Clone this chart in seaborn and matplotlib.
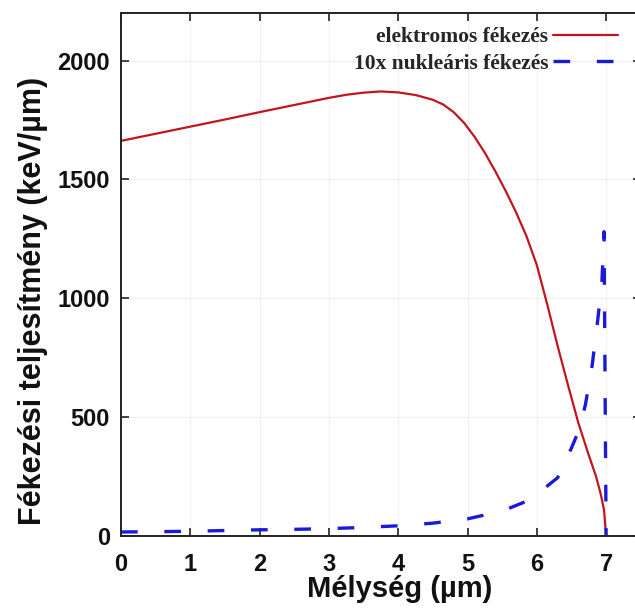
import numpy as np
import pandas as pd
import matplotlib
matplotlib.use("Agg")
import matplotlib.pyplot as plt
import seaborn as sns

# Electronic stopping power along the track (keV/µm vs depth in µm)
elec_depth = [0.0, 0.5, 1.0, 1.5, 2.0, 2.5, 3.0, 3.25, 3.5, 3.75, 4.0, 4.25, 4.5,
              4.65, 4.8, 4.95, 5.1, 5.25, 5.4, 5.55, 5.7, 5.85, 6.0, 6.15, 6.3,
              6.45, 6.6, 6.75, 6.85, 6.92, 6.97, 7.0]
elec_power = [1662, 1692, 1722, 1752, 1783, 1813, 1843, 1856, 1865, 1870, 1866, 1855, 1835,
              1815, 1783, 1738, 1680, 1612, 1535, 1452, 1362, 1262, 1140, 975, 800,
              635, 475, 340, 255, 180, 110, 0]

# Nuclear stopping power, multiplied by 10
nucl_depth = [0.0, 0.5, 1.0, 1.5, 2.0, 2.5, 3.0, 3.5, 4.0, 4.5, 5.0, 5.5, 5.8,
              6.0, 6.3, 6.5, 6.6, 6.7, 6.8, 6.88, 6.94, 6.97, 7.0]
nucl_power = [17, 18, 20, 23, 26, 28, 31, 36, 43, 54, 72, 105, 140,
              175, 245, 370, 440, 550, 720, 910, 1070, 1280, 0]

series_names = ["elektromos fékezés", "10x nukleáris fékezés"]
x_ticks = [0, 1, 2, 3, 4, 5, 6, 7]
y_ticks = [0, 500, 1000, 1500, 2000]

df = pd.concat([
    pd.DataFrame({"x": elec_depth, "y": elec_power, "series": series_names[0]}),
    pd.DataFrame({"x": nucl_depth, "y": nucl_power, "series": series_names[1]}),
], ignore_index=True)

sns.set_theme(style="white")
plt.rcParams["font.family"] = ["Liberation Sans", "DejaVu Sans"]

W, H = 635, 612
fig = plt.figure(figsize=(W / 100, H / 100), dpi=100)
# axes spans 0..7.5 in x; the right edge runs slightly past the canvas
x0, y0, y_top = 121, 536, 13
px_per_unit = 69.3
ax = fig.add_axes([x0 / W, (H - y0) / H, 7.5 * px_per_unit / W, (y0 - y_top) / H])

palette = {series_names[0]: "#c0161e", series_names[1]: "#1a1ad8"}
sns.lineplot(data=df, x="x", y="y", hue="series", style="series",
             palette=palette, dashes={series_names[0]: "", series_names[1]: (5, 8)},
             estimator=None, sort=False, ax=ax, legend=False)
for line, lw in zip(ax.lines, [1.6, 2.4]):
    line.set_linewidth(lw)
    line.set_solid_joinstyle("round")

ax.set_xlim(0, 7.5)
ax.set_ylim(0, 2200)
ax.set_xticks(x_ticks)
ax.set_yticks(y_ticks)
ax.grid(True, color="#f0f0f0", linewidth=0.8)
for side in ["left", "bottom", "top", "right"]:
    ax.spines[side].set_visible(True)
    ax.spines[side].set_color("#222222")
    ax.spines[side].set_linewidth(1.4)
ax.tick_params(direction="in", length=6, width=1.2, color="#222222",
               top=True, right=True, bottom=True, left=True, labelsize=17)
ax.tick_params(axis="x", pad=12)
ax.tick_params(axis="y", pad=8)
for lab in ax.get_xticklabels() + ax.get_yticklabels():
    lab.set_fontweight("bold")
    lab.set_color("#111111")

ax.set_xlabel("Mélység (µm)", fontsize=21, fontweight="bold", color="#111111")
ax.xaxis.set_label_coords(0.537, -0.075)
ax.set_ylabel("Fékezési teljesítmény (keV/µm)", fontsize=22, fontweight="bold",
              color="#111111")
ax.yaxis.set_label_coords(-0.14, 0.45)

handles = [plt.Line2D([], [], color=palette[series_names[0]], lw=1.6),
           plt.Line2D([], [], color=palette[series_names[1]], lw=2.4, dashes=(5, 8))]
fig.legend(handles, series_names, loc="upper right",
           bbox_to_anchor=(618 / W, 1 - 27 / H), frameon=False, markerfirst=False,
           prop={"family": "Liberation Serif", "weight": "bold", "size": 15.5},
           handlelength=3.0, handletextpad=0.25, labelspacing=0.32,
           borderpad=0, borderaxespad=0)

fig.savefig("out.png", dpi=100)
